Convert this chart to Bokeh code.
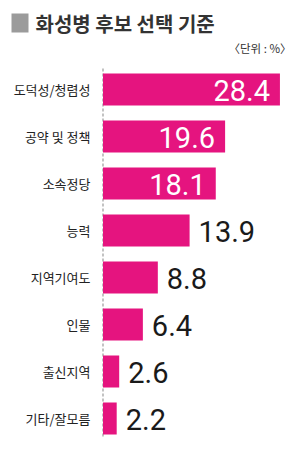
from bokeh.plotting import figure
from bokeh.models import Range1d, ColumnDataSource
from bokeh.core.properties import value
from bokeh.embed import file_html
from bokeh.resources import INLINE

title = "화성병 후보 선택 기준"
unit = "〈단위 : %〉"
categories = ["도덕성/청렴성", "공약 및 정책", "소속정당", "능력", "지역기여도", "인물", "출신지역", "기타/잘모름"]
values = [28.4, 19.6, 18.1, 13.9, 8.8, 6.4, 2.6, 2.2]
inside = [True, True, True, False, False, False, False, False]

W, H = 300, 461
X0, SX = 102.5, 6.23      # px of zero, px per unit
Y0, SY = 89.0, 47.0       # px of first category centre, px per category

def fx(px):
    return (px - X0) / SX

def fy(py):
    return (py - Y0) / SY

p = figure(width=W, height=H, output_backend="svg", toolbar_location=None,
           x_range=Range1d(fx(0), fx(W)), y_range=Range1d(fy(H), fy(0)),
           min_border=0, border_fill_color="white", outline_line_color=None)
p.axis.visible = False
p.grid.visible = False

idx = list(range(len(categories)))
src = ColumnDataSource(dict(y=idx, v=values, cat=categories))

p.segment(x0=0, y0=fy(68), x1=0, y1=fy(437), line_color="#9a9a9a",
          line_dash="3 2", line_width=1.2)

p.hbar(y="y", left=0, right="v", height=32 / SY, source=src,
       fill_color="#E5147F", line_color=None)

p.text(x=fx(90), y="y", text="cat", source=src, text_align="right",
       text_baseline="middle", text_font=value("Noto Sans CJK KR"),
       text_font_size="13px", text_color="#222222")

ins = [i for i in idx if inside[i]]
outs = [i for i in idx if not inside[i]]
src_in = ColumnDataSource(dict(x=[values[i] - 10 / SX for i in ins], y=ins,
                               t=[f"{values[i]:.1f}" for i in ins]))
src_out = ColumnDataSource(dict(x=[values[i] + 9 / SX for i in outs], y=outs,
                                t=[f"{values[i]:.1f}" for i in outs]))
vfont = value("Roboto")
p.text(x="x", y="y", text="t", source=src_in, text_align="right",
       text_baseline="middle", text_font=vfont, text_font_size="29px",
       text_color="white", y_offset=1)
p.text(x="x", y="y", text="t", source=src_out, text_align="left",
       text_baseline="middle", text_font=vfont, text_font_size="29px",
       text_color="#1a1a1a", y_offset=1)

p.quad(left=fx(11), right=fx(28), top=fy(13), bottom=fy(32),
       fill_color="#9b9b9b", line_color=None)
p.text(x=fx(35), y=fy(23), text=[title], text_align="left",
       text_baseline="middle", text_font=value("Noto Sans CJK KR"),
       text_font_size="20px", text_color="#333333", text_font_style="bold")
p.text(x=fx(291), y=fy(47), text=[unit], text_align="right",
       text_baseline="middle", text_font=value("Noto Sans CJK KR"),
       text_font_size="11.5px", text_color="#333333")

open("out.html", "w").write(file_html(p, INLINE))
